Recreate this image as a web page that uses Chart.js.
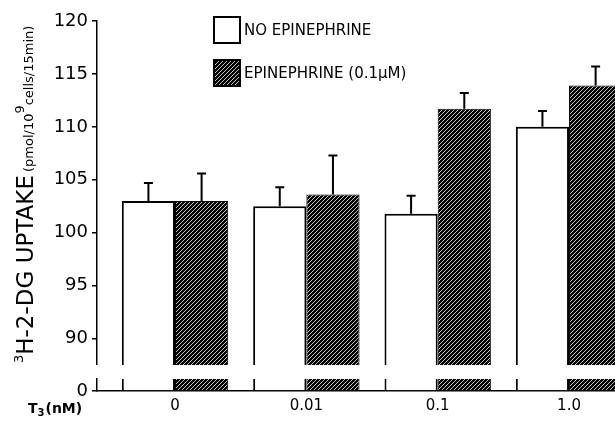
<!DOCTYPE html>
<html>
<head>
<meta charset="utf-8">
<script src="https://cdn.jsdelivr.net/npm/chart.js@4.4.1/dist/chart.umd.min.js"></script>
<style>
html, body { margin: 0; padding: 0; background: #fff; overflow: hidden; }
#wrap { position: relative; width: 615px; height: 425px; }
#upper { position: absolute; left: 0; top: 0; }
#lower { position: absolute; left: 0; top: 360px; }
</style>
</head>
<body>
<div id="wrap">
<canvas id="upper" width="615" height="365"></canvas>
<canvas id="lower" width="615" height="65"></canvas>
</div>
<script>
const doseLabels = ['0', '0.01', '0.1', '1.0'];
const doseIndex = [0, 1, 2, 3];
const noEpiMeans = [103.0, 102.5, 101.8, 110.0];
const noEpiErr = [1.7, 1.8, 1.7, 1.5];
const epiMeans = [103.0, 103.6, 111.7, 113.9];
const epiErr = [2.6, 3.7, 1.5, 1.8];
const upperTicks = [90, 95, 100, 105, 110, 115, 120];
const lowerTicks = [0];

const ink = '#000';
const fontFamily = "'DejaVu Sans', sans-serif";
const xMin = -0.594;
const xMax = 3.35;

function hatch(ctx) {
  const c = document.createElement('canvas');
  c.width = 4; c.height = 4;
  const g = c.getContext('2d');
  g.fillStyle = '#000';
  g.fillRect(0, 0, 4, 4);
  g.strokeStyle = 'rgba(255,255,255,0.85)';
  g.lineWidth = 0.9;
  g.beginPath();
  g.moveTo(0, 4); g.lineTo(4, 0);
  g.moveTo(-1, 1); g.lineTo(1, -1);
  g.moveTo(3, 5); g.lineTo(5, 3);
  g.stroke();
  return ctx.createPattern(c, 'repeat');
}

function points(values) {
  return doseIndex.map((x, i) => ({ x, y: values[i] }));
}

function makeDatasets(ctx) {
  return [
    {
      label: 'NO EPINEPHRINE',
      data: points(noEpiMeans),
      errors: noEpiErr,
      backgroundColor: '#fff',
      borderColor: ink,
      borderWidth: 2,
      borderSkipped: 'start',
      categoryPercentage: 0.81,
      barPercentage: 1
    },
    {
      label: 'EPINEPHRINE (0.1\u03BCM)',
      data: points(epiMeans),
      errors: epiErr,
      backgroundColor: hatch(ctx),
      borderColor: ink,
      borderWidth: 1,
      borderSkipped: 'start',
      categoryPercentage: 0.81,
      barPercentage: 1
    }
  ];
}

const errorBars = {
  id: 'errorBars',
  afterDatasetsDraw(chart) {
    const { ctx, chartArea } = chart;
    const y = chart.scales.y;
    ctx.save();
    ctx.beginPath();
    ctx.rect(chartArea.left, 0, chartArea.width, chart.height);
    ctx.clip();
    ctx.strokeStyle = ink;
    ctx.lineWidth = 2;
    chart.data.datasets.forEach((ds, di) => {
      chart.getDatasetMeta(di).data.forEach((bar, i) => {
        const top = y.getPixelForValue(ds.data[i].y + ds.errors[i]);
        ctx.beginPath();
        ctx.moveTo(bar.x, bar.y);
        ctx.lineTo(bar.x, top);
        ctx.moveTo(bar.x - 4.5, top);
        ctx.lineTo(bar.x + 4.5, top);
        ctx.stroke();
      });
    });
    ctx.restore();
  }
};

const boxLegend = {
  id: 'boxLegend',
  afterDraw(chart) {
    const { ctx } = chart;
    const rows = [17, 60];
    ctx.save();
    ctx.font = '15px ' + fontFamily;
    ctx.textBaseline = 'middle';
    chart.data.datasets.forEach((ds, i) => {
      const top = rows[i];
      ctx.fillStyle = ds.backgroundColor;
      ctx.fillRect(214, top, 26, 26);
      ctx.strokeStyle = ink;
      ctx.lineWidth = 2;
      ctx.strokeRect(214, top, 26, 26);
      ctx.fillStyle = ink;
      ctx.fillText(ds.label, 244, top + 14);
    });
    ctx.restore();
  }
};

const yTitle = {
  id: 'yTitle',
  afterDraw(chart) {
    const { ctx } = chart;
    ctx.save();
    ctx.translate(33, 363);
    ctx.rotate(-Math.PI / 2);
    ctx.fillStyle = ink;
    ctx.textBaseline = 'alphabetic';
    let x = 0;
    const part = (text, size, rise) => {
      ctx.font = size + 'px ' + fontFamily;
      ctx.fillText(text, x, -rise);
      x += ctx.measureText(text).width;
    };
    part('3', 13, 10);
    part('H-2-DG UPTAKE', 23, 0);
    x += 3;
    part('(pmol/10', 13, 0);
    part('9', 13, 9);
    part('cells/15min)', 13, 0);
    ctx.restore();
  }
};

const doseTitle = {
  id: 'doseTitle',
  afterDraw(chart) {
    const { ctx } = chart;
    ctx.save();
    ctx.fillStyle = ink;
    ctx.textBaseline = 'alphabetic';
    ctx.font = 'bold 14px ' + fontFamily;
    ctx.fillText('T', 28, 53);
    let x = 28 + ctx.measureText('T').width;
    ctx.font = 'bold 10px ' + fontFamily;
    ctx.fillText('3', x, 56);
    x += ctx.measureText('3').width + 1;
    ctx.font = 'bold 14px ' + fontFamily;
    ctx.fillText('(nM)', x, 53);
    ctx.restore();
  }
};

function yAxis(min, max, tickValues) {
  return {
    min, max,
    afterBuildTicks: s => { s.ticks = tickValues.map(v => ({ value: v })); },
    afterFit: s => { s.width = 97; s.paddingTop = 0; s.paddingBottom = 0; },
    border: { color: ink, width: 1.5 },
    grid: { drawOnChartArea: false, color: ink, lineWidth: 1.5, tickLength: 5 },
    ticks: { color: ink, font: { family: fontFamily, size: 18 }, padding: 4 }
  };
}

function xAxis(show) {
  return {
    type: 'linear', display: show, min: xMin, max: xMax, offset: false, bounds: 'data',
    afterBuildTicks: s => { s.ticks = doseIndex.map(v => ({ value: v })); },
    afterFit: s => { s.height = show ? 34 : 0; s.paddingLeft = 0; s.paddingRight = 0; },
    border: { color: ink, width: 1.5 },
    grid: { display: false, drawTicks: false, offset: false },
    ticks: {
      color: ink, autoSkip: false, maxRotation: 0, padding: 6,
      font: { family: fontFamily, size: 15 },
      callback: v => doseLabels[v] ?? ''
    }
  };
}

const upperCanvas = document.getElementById('upper');
new Chart(upperCanvas, {
  type: 'bar',
  data: { datasets: makeDatasets(upperCanvas.getContext('2d')) },
  options: {
    responsive: false,
    animation: false,
    layout: { padding: { top: 21, bottom: 0, left: 0, right: 0 } },
    plugins: { legend: { display: false }, tooltip: { enabled: false } },
    scales: { x: xAxis(false), y: yAxis(87.5, 120, upperTicks) }
  },
  plugins: [errorBars, boxLegend, yTitle]
});

const lowerCanvas = document.getElementById('lower');
new Chart(lowerCanvas, {
  type: 'bar',
  data: { datasets: makeDatasets(lowerCanvas.getContext('2d')) },
  options: {
    responsive: false,
    animation: false,
    layout: { padding: { top: 19, bottom: 0, left: 0, right: 0 } },
    plugins: { legend: { display: false }, tooltip: { enabled: false } },
    scales: { x: xAxis(true), y: yAxis(0, 1, lowerTicks) }
  },
  plugins: [doseTitle]
});
</script>
</body>
</html>
